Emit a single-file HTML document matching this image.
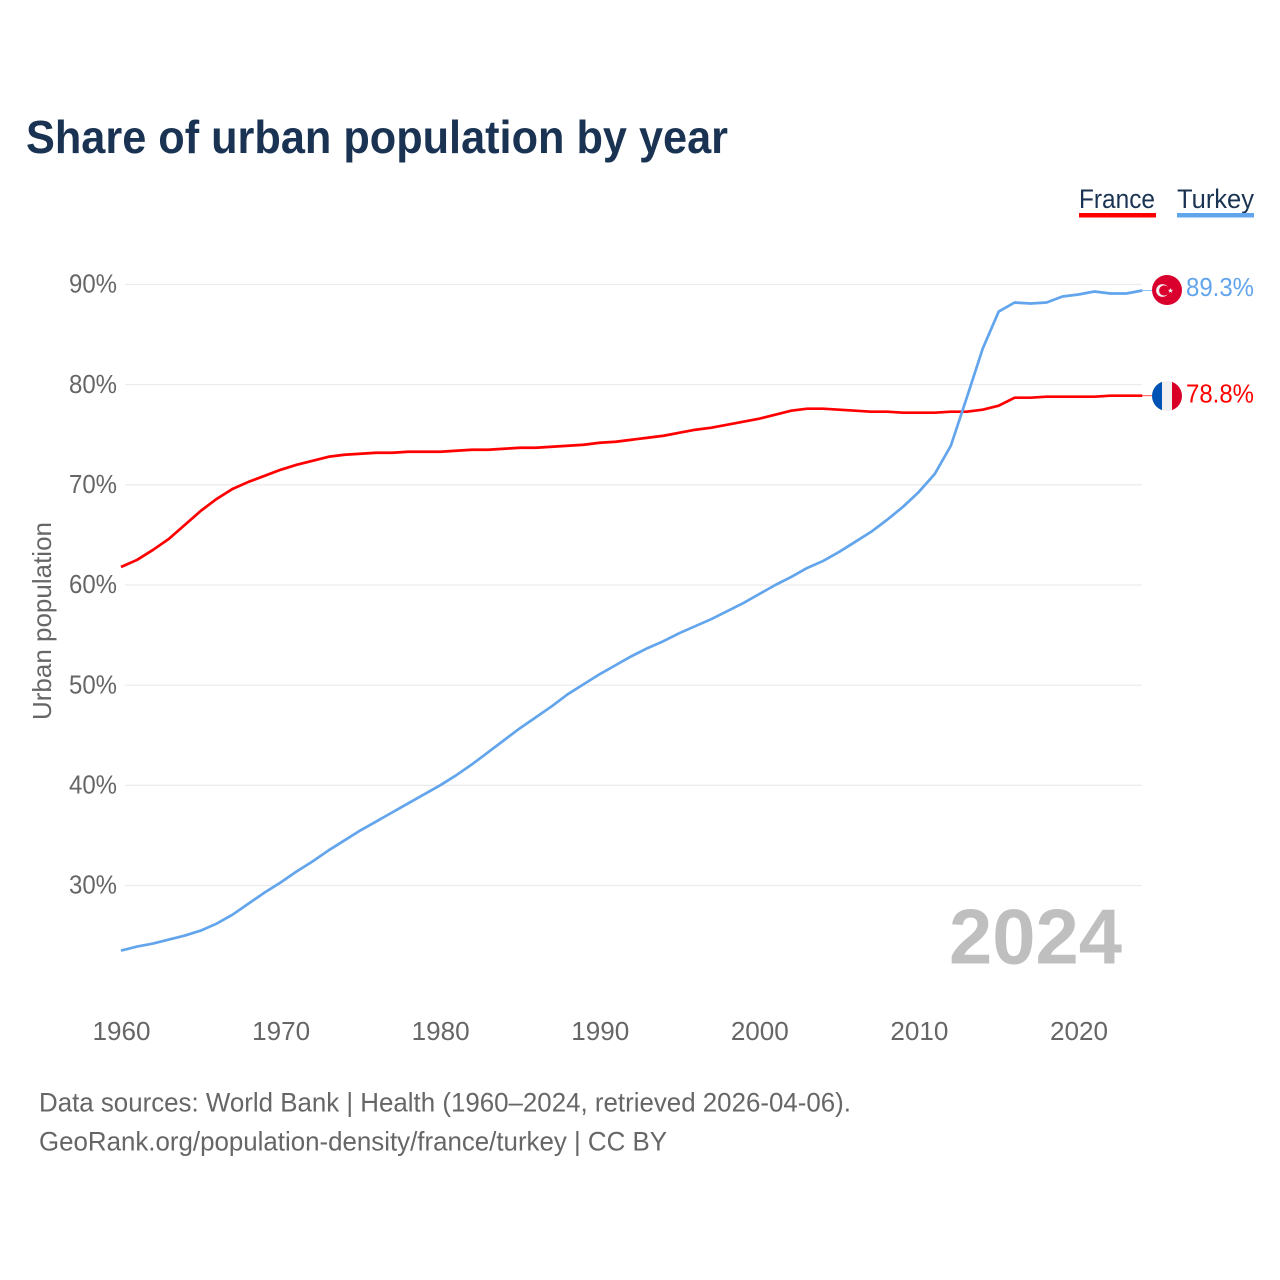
<!DOCTYPE html>
<html lang="en">
<head>
<meta charset="utf-8">
<title>Share of urban population by year</title>
<style>
html,body{margin:0;padding:0;background:#fff;}
svg{display:block;}
text{font-family:"Liberation Sans",sans-serif;}
</style>
</head>
<body>
<svg id="chart" xmlns="http://www.w3.org/2000/svg" width="1280" height="1280" viewBox="0 0 1280 1280">
  <rect x="0" y="0" width="1280" height="1280" fill="#ffffff"/>
  <text x="26" y="153" font-size="46.5" font-weight="700" fill="#1a3353" textLength="702" lengthAdjust="spacingAndGlyphs">Share of urban population by year</text>

  <g>
    <text x="1079" y="208" font-size="27" fill="#1a3353" textLength="76" lengthAdjust="spacingAndGlyphs">France</text>
    <rect x="1079" y="213" width="77" height="4.5" fill="#ff0000"/>
  </g>
  <g>
    <text x="1177" y="208" font-size="27" fill="#1a3353" textLength="77" lengthAdjust="spacingAndGlyphs">Turkey</text>
    <rect x="1177" y="213" width="77" height="4.5" fill="#62a5ec"/>
  </g>

  <g id="grid"></g>
  <g id="yticks"></g>
  <g id="xticks"></g>
  <text transform="translate(51,621) rotate(-90)" text-anchor="middle" font-size="26" fill="#666666" textLength="198" lengthAdjust="spacingAndGlyphs">Urban population</text>

  <text x="949" y="963.5" font-size="78" font-weight="700" fill="#bfbfbf" textLength="173" lengthAdjust="spacingAndGlyphs">2024</text>

  <g id="series"></g>

  <g>
    <circle cx="1167" cy="290" r="15" fill="#d9002e"/>
    <circle cx="1162.5" cy="290.5" r="6.4" fill="#f2f2f2"/>
    <circle cx="1164.2" cy="290.5" r="5.1" fill="#d9002e"/>
    <polygon points="1170.5,288 1171.2,289.8 1173.2,289.9 1171.6,291 1172.2,292.9 1170.5,291.8 1168.8,292.9 1169.4,291 1167.8,289.9 1169.8,289.8" fill="#f2f2f2"/>
  </g>
  <g>
    <clipPath id="fr-clip"><circle cx="1167" cy="396" r="15"/></clipPath>
    <g clip-path="url(#fr-clip)">
      <rect x="1152" y="381" width="10" height="30" fill="#0052b4"/>
      <rect x="1162" y="381" width="10" height="30" fill="#f0f0f0"/>
      <rect x="1172" y="381" width="10" height="30" fill="#d80027"/>
    </g>
  </g>

  <text x="1186" y="296" font-size="26" fill="#62a5ec" textLength="68" lengthAdjust="spacingAndGlyphs">89.3%</text>
  <text x="1186" y="402.5" font-size="26" fill="#ff0000" textLength="68" lengthAdjust="spacingAndGlyphs">78.8%</text>

  <text x="39" y="1111.5" font-size="26.5" fill="#666666" textLength="812" lengthAdjust="spacingAndGlyphs">Data sources: World Bank | Health (1960–2024, retrieved 2026-04-06).</text>
  <a><text x="39" y="1150.5" font-size="26.5" fill="#666666" textLength="628" lengthAdjust="spacingAndGlyphs">GeoRank.org/population-density/france/turkey | CC BY</text></a>
</svg>
<script>
const startYear = 1960;
const yTickValues = [30, 40, 50, 60, 70, 80, 90];
const yTickLabels = ['30%', '40%', '50%', '60%', '70%', '80%', '90%'];
const xTickValues = [1960, 1970, 1980, 1990, 2000, 2010, 2020];
const xTickLabels = ['1960', '1970', '1980', '1990', '2000', '2010', '2020'];
const franceValues = [61.8,62.5,63.5,64.6,66.0,67.4,68.6,69.6,70.3,70.9,71.5,72.0,72.4,72.8,73.0,73.1,73.2,73.2,73.3,73.3,73.3,73.4,73.5,73.5,73.6,73.7,73.7,73.8,73.9,74.0,74.2,74.3,74.5,74.7,74.9,75.2,75.5,75.7,76.0,76.3,76.6,77.0,77.4,77.6,77.6,77.5,77.4,77.3,77.3,77.2,77.2,77.2,77.3,77.3,77.5,77.9,78.7,78.7,78.8,78.8,78.8,78.8,78.9,78.9,78.9];
const turkeyValues = [23.5,23.9,24.2,24.6,25.0,25.5,26.2,27.1,28.2,29.3,30.3,31.4,32.4,33.5,34.5,35.5,36.4,37.3,38.2,39.1,40.0,41.0,42.1,43.3,44.5,45.7,46.8,47.9,49.1,50.1,51.1,52.0,52.9,53.7,54.4,55.2,55.9,56.6,57.4,58.2,59.1,60.0,60.8,61.7,62.4,63.3,64.3,65.3,66.5,67.8,69.3,71.1,73.9,78.7,83.6,87.3,88.2,88.1,88.2,88.8,89.0,89.3,89.1,89.1,89.4];

const NS = 'http://www.w3.org/2000/svg';
const xScale = function (year) { return 121 + (year - 1960) * 15.958; };
const yScale = function (value) { return 885.5 - (value - 30) * 10.017; };

const grid = document.getElementById('grid');
const yticks = document.getElementById('yticks');
const xticks = document.getElementById('xticks');
const series = document.getElementById('series');

yTickValues.forEach(function (v, i) {
  const line = document.createElementNS(NS, 'line');
  
  
  line.setAttribute('x1', 125);
  line.setAttribute('x2', 1142);
  line.setAttribute('y1', yScale(v));
  line.setAttribute('y2', yScale(v));
  line.setAttribute('stroke', '#ececec');
  line.setAttribute('stroke-width', 1.3);
  grid.appendChild(line);

  const label = document.createElementNS(NS, 'text');
  
  
  label.setAttribute('x', 69);
  label.setAttribute('y', yScale(v) + 8.2);
  label.setAttribute('font-size', 26);
  label.setAttribute('fill', '#666666');
  label.setAttribute('textLength', 48);
  label.setAttribute('lengthAdjust', 'spacingAndGlyphs');
  label.textContent = yTickLabels[i];
  yticks.appendChild(label);
});

xTickValues.forEach(function (y, i) {
  const label = document.createElementNS(NS, 'text');
  
  
  label.setAttribute('x', xScale(y) - 28.5);
  label.setAttribute('y', 1040);
  label.setAttribute('font-size', 26);
  label.setAttribute('fill', '#666666');
  label.setAttribute('textLength', 58);
  label.setAttribute('lengthAdjust', 'spacingAndGlyphs');
  label.textContent = xTickLabels[i];
  xticks.appendChild(label);
});

function drawLine(values, color) {
  const pts = values.map(function (v, i) {
    return xScale(startYear + i).toFixed(2) + ',' + yScale(v).toFixed(2);
  });
  const last = values[values.length - 1];
  const stub = document.createElementNS(NS, 'line');
  
  
  stub.setAttribute('x1', xScale(startYear + values.length - 1));
  stub.setAttribute('x2', xScale(startYear + values.length - 1) + 10);
  stub.setAttribute('y1', yScale(last));
  stub.setAttribute('y2', yScale(last));
  stub.setAttribute('stroke', color);
  stub.setAttribute('stroke-width', 1);
  stub.setAttribute('stroke-opacity', 0.7);
  series.appendChild(stub);

  const line = document.createElementNS(NS, 'polyline');
  
  
  line.setAttribute('points', pts.join(' '));
  line.setAttribute('fill', 'none');
  line.setAttribute('stroke', color);
  line.setAttribute('stroke-width', 2.7);
  line.setAttribute('stroke-linejoin', 'round');
  series.appendChild(line);
}

drawLine(franceValues, '#ff0000');
drawLine(turkeyValues, '#62a5ec');
</script>
</body>
</html>
